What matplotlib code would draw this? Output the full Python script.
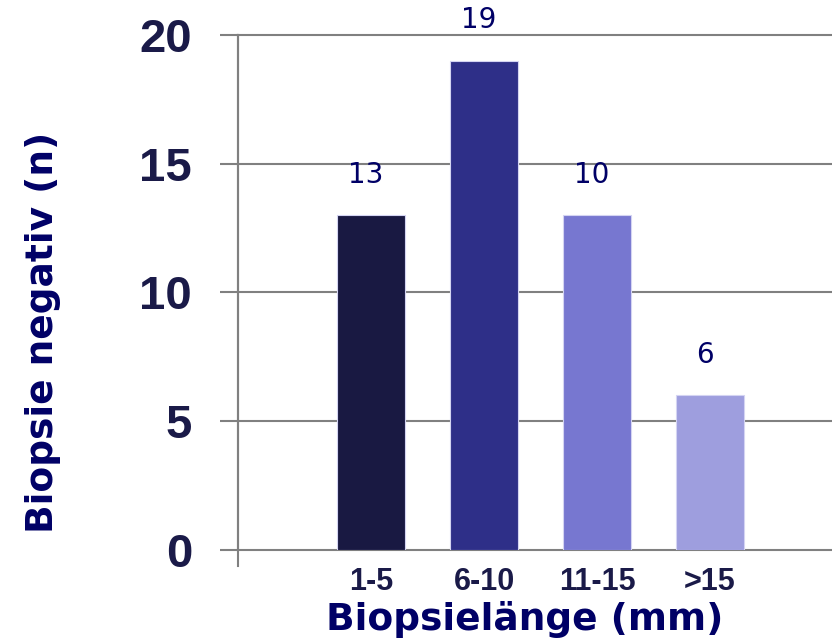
import numpy as np
import matplotlib.pyplot as plt

categories = ["1-5", "6-10", "11-15", ">15"]
heights = [13, 19, 13, 6]
value_labels = ["13", "19", "10", "6"]
bar_colors = ["#191942", "#2E2F88", "#7777D0", "#9E9EDE"]
yticks = [0, 5, 10, 15, 20]

tick_color = "#1A1A48"
label_color = "#000066"
grid_color = "#808080"


def plot(plot_file: str) -> None:
    fig = plt.figure(figsize=(8.32, 6.42), dpi=100)
    ax = fig.add_axes([0.286, 0.1433, 0.714, 0.8022])

    x = np.arange(len(categories))
    bars = ax.bar(x, heights, width=0.6, color=bar_colors,
                  edgecolor="#D4D4F2", linewidth=0.8, zorder=3)

    for b, txt in zip(bars, value_labels):
        ax.annotate(txt, (b.get_x() + b.get_width() / 2, b.get_height()),
                    xytext=(-4, 19), textcoords="offset points",
                    ha="center", va="bottom", fontsize=20,
                    family="DejaVu Sans", color=label_color)

    ax.set_xlim(-1.18, 4.08)
    ax.set_ylim(0, 20)
    ax.set_yticks(yticks)
    ax.set_xticks(x)
    ax.set_xticklabels(categories)

    for s in ["top", "right", "bottom"]:
        ax.spines[s].set_visible(False)
    ax.spines["left"].set_color(grid_color)
    ax.spines["left"].set_linewidth(1.5)
    ax.plot([0, 0], [-0.032, 1], transform=ax.transAxes, color=grid_color,
            lw=1.5, clip_on=False, zorder=4)

    ax.yaxis.grid(True, color=grid_color, linewidth=1.5, zorder=0)
    for gl in ax.yaxis.get_gridlines():
        gl.set_clip_on(False)

    ax.tick_params(axis="y", length=13, width=1.5, color=grid_color, pad=20,
                   labelsize=34, labelcolor=tick_color)
    ax.tick_params(axis="x", length=0, pad=12, labelsize=22,
                   labelcolor=tick_color)
    for lab in ax.get_yticklabels() + ax.get_xticklabels():
        lab.set_family("Liberation Sans")
        lab.set_fontweight("bold")

    ax.set_xlabel("Biopsielänge (mm)", fontsize=27, fontweight="bold",
                  family="DejaVu Sans", color=label_color)
    ax.set_ylabel("Biopsie negativ (n)", fontsize=27, fontweight="bold",
                  family="DejaVu Sans", color=label_color)
    ax.xaxis.set_label_coords((525 - 238) / 594, -(601 - 550) / 515)
    ax.yaxis.set_label_coords(-(238 - 61) / 594, (550 - 332) / 515)

    fig.savefig(plot_file, dpi=100)
    plt.close(fig)


def main() -> None:
    plot("out.png")


if __name__ == '__main__':
    main()
